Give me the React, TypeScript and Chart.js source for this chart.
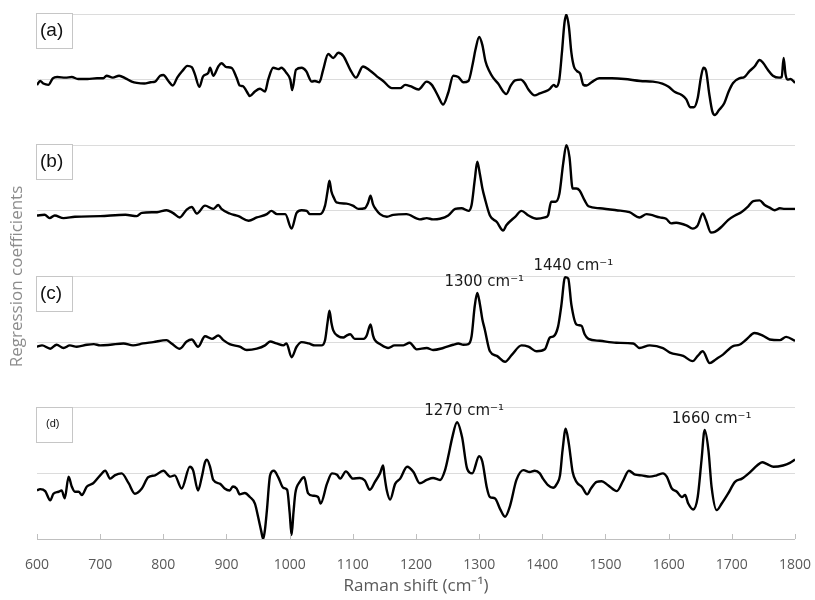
import React, { useEffect, useRef } from 'react';
import { Chart, registerables } from 'chart.js';

Chart.register(...registerables);

// ---- data (Raman shift in cm-1, regression coefficient in panel units) ----
const shiftA = [
  600,605,610,618,625,632,645,655,665,680,
  695,705,710,720,730,740,750,758,770,780,
  787,795,800,808,815,822,830,838,845,850,
  857,863,871,874,879,887,892,900,908,916,
  921,926,932,937,945,953,961,966,974,982,
  987,995,1001,1004,1010,1019,1026,1035,1040,1047,
  1053,1061,1069,1077,1085,1096,1105,1116,1127,1138,
  1148,1162,1175,1183,1191,1204,1217,1225,1235,1243,
  1251,1259,1267,1275,1283,1290,1294,1300,1305,1310,
  1316,1322,1330,1338,1343,1350,1357,1366,1372,1378,
  1388,1396,1405,1412,1418,1422,1427,1431,1435,1438,
  1442,1446,1450,1455,1460,1465,1470,1478,1490,1510,
  1530,1555,1575,1590,1600,1610,1620,1628,1634,1640,
  1646,1651,1655,1659,1664,1669,1673,1680,1688,1695,
  1702,1712,1720,1728,1736,1744,1750,1757,1765,1775,
  1779,1782,1785,1788,1793,1800];
const coefA = [
  -0.08,-0.02,-0.06,-0.08,0.02,0.04,0.03,0.04,0.01,0.01,
  0.02,0.02,0.06,0.03,0.06,0.02,-0.03,-0.05,-0.06,-0.04,
  -0.03,0.06,0.07,-0.02,-0.09,0.03,0.13,0.21,0.19,0.08,
  -0.11,0.05,0.1,0.18,0.06,0.2,0.25,0.19,0.18,0.03,
  -0.09,-0.1,-0.18,-0.25,-0.18,-0.14,-0.18,0,0.18,0.16,
  0.18,0.1,0,-0.16,0.15,0.18,0.13,-0.03,-0.02,-0.04,
  0.15,0.39,0.33,0.41,0.36,0.15,0.03,0.2,0.14,0.05,
  -0.02,-0.13,-0.13,-0.08,-0.1,-0.15,-0.03,-0.08,-0.25,-0.38,
  -0.2,0.06,0.04,-0.04,-0.02,0.25,0.45,0.65,0.53,0.28,
  0.13,0.03,-0.06,-0.18,-0.22,-0.09,-0.01,0,-0.05,-0.15,
  -0.24,-0.21,-0.18,-0.14,-0.08,-0.11,0.01,0.41,0.86,0.99,
  0.81,0.41,0.2,0.13,0.09,-0.08,-0.09,-0.04,0.02,0.02,
  0.01,-0.02,-0.03,-0.06,-0.11,-0.19,-0.23,-0.3,-0.42,-0.42,
  -0.28,0.03,0.18,0.14,-0.2,-0.48,-0.54,-0.46,-0.36,-0.18,
  -0.05,0.02,0.04,0.13,0.2,0.3,0.25,0.15,0.06,0.03,
  0.04,0.33,0.08,0,0.01,-0.05];

const shiftB = [600,612,620,628,642,660,700,740,758,766,790,805,815,826,837,845,853,866,879,887,892,905,919,935,948,964,971,980,993,1003,1011,1019,1027,1032,1048,1056,1060,1063,1066,1070,1074,1090,1100,1109,1119,1124,1128,1132,1136,1143,1154,1164,1185,1206,1217,1227,1238,1251,1262,1272,1283,1288,1293,1297,1301,1305,1309,1317,1328,1338,1343,1357,1367,1378,1391,1404,1409,1414,1421,1427,1433,1438,1443,1448,1454,1459,1467,1473,1491,1517,1538,1554,1565,1586,1596,1604,1612,1628,1638,1646,1654,1659,1667,1673,1684,1694,1705,1715,1726,1734,1744,1752,1760,1768,1776,1784,1800];
const coefB = [-0.07,-0.06,-0.11,-0.07,-0.11,-0.09,-0.08,-0.06,-0.08,-0.03,-0.02,0.01,-0.03,-0.1,0.02,0.06,-0.04,0.08,0.03,0.09,0.03,-0.04,-0.08,-0.15,-0.1,-0.05,0,-0.05,-0.05,-0.27,-0.03,0.01,0,-0.05,-0.05,0.08,0.3,0.46,0.3,0.2,0.13,0.11,0.08,0.03,0.04,0.12,0.23,0.1,0.03,-0.05,-0.09,-0.06,-0.05,-0.13,-0.11,-0.13,-0.12,-0.07,0.03,0.04,0,0.09,0.47,0.75,0.57,0.35,0.19,-0.07,-0.17,-0.3,-0.22,-0.09,0,-0.07,-0.12,-0.1,-0.07,0.14,0.14,0.26,0.72,1.0,0.82,0.34,0.34,0.31,0.16,0.07,0.04,0.01,-0.02,-0.1,-0.05,-0.1,-0.12,-0.19,-0.18,-0.22,-0.27,-0.22,-0.04,-0.14,-0.33,-0.32,-0.24,-0.14,-0.07,-0.02,0.07,0.15,0.16,0.09,0.05,0.01,0.04,0.03,0.03];

const shiftC = [600,608,621,631,642,652,663,679,690,700,716,737,752,768,784,805,813,826,837,845,855,866,877,887,895,905,921,932,948,961,969,979,990,995,1003,1011,1019,1030,1040,1050,1056,1060,1063,1066,1069,1077,1085,1090,1096,1103,1117,1122,1128,1132,1135,1143,1156,1166,1180,1190,1201,1217,1227,1243,1259,1267,1275,1283,1288,1293,1297,1301,1305,1309,1317,1328,1341,1352,1367,1378,1391,1404,1412,1418,1425,1430,1436,1441,1446,1454,1462,1467,1473,1491,1517,1544,1554,1570,1591,1602,1623,1638,1646,1654,1665,1675,1686,1702,1712,1723,1736,1749,1760,1776,1786,1800];
const coefC = [-0.07,-0.05,-0.1,-0.04,-0.09,-0.05,-0.07,-0.04,-0.03,-0.05,-0.04,-0.02,-0.05,-0.02,0,0.03,-0.02,-0.1,0.01,0.04,-0.07,0.09,0.05,0.1,0.03,-0.03,-0.07,-0.12,-0.1,-0.05,0.01,-0.02,-0.05,-0.02,-0.23,-0.07,0,-0.02,-0.05,-0.05,0.03,0.3,0.48,0.3,0.18,0.09,0.07,0.1,0.12,0.05,0.05,0.1,0.27,0.1,0.03,-0.03,-0.09,-0.05,-0.05,-0.01,-0.11,-0.09,-0.12,-0.09,-0.04,-0.02,-0.04,-0.03,0.09,0.55,0.75,0.59,0.35,0.19,-0.14,-0.21,-0.3,-0.19,-0.05,-0.07,-0.14,-0.11,0.07,0.09,0.24,0.55,0.99,0.97,0.57,0.27,0.25,0.12,0.05,0.02,-0.01,-0.02,-0.09,-0.05,-0.09,-0.16,-0.21,-0.29,-0.21,-0.14,-0.32,-0.26,-0.19,-0.06,-0.04,0.04,0.14,0.1,0.04,0.03,0.08,0.02];

const shiftD = [
  600,605,613,621,626,634,639,644,650,655,
  660,666,671,679,689,700,708,716,723,734,
  745,755,766,776,787,800,811,818,829,842,
  847,855,861,866,869,874,879,890,897,905,
  910,916,921,929,937,945,950,955,958,961,
  964,969,975,982,990,996,1000,1003,1006,1009,
  1016,1023,1029,1037,1045,1049,1059,1067,1075,1080,
  1089,1100,1111,1119,1127,1135,1143,1148,1150,1154,
  1159,1167,1175,1186,1196,1206,1217,1227,1238,1246,
  1252,1257,1265,1273,1281,1289,1300,1305,1312,1317,
  1325,1333,1341,1349,1359,1370,1380,1388,1396,1401,
  1409,1417,1423,1428,1432,1437,1442,1448,1454,1463,
  1471,1477,1486,1494,1504,1518,1528,1537,1547,1557,
  1570,1581,1591,1597,1605,1613,1621,1626,1631,1639,
  1646,1652,1657,1663,1668,1676,1684,1694,1705,1716,
  1729,1740,1748,1756,1766,1781,1792,1800];
const coefD = [
  -0.26,-0.24,-0.27,-0.41,-0.31,-0.28,-0.26,-0.38,-0.05,-0.2,
  -0.28,-0.28,-0.33,-0.2,-0.15,-0.03,0.04,-0.08,-0.03,0,
  -0.15,-0.31,-0.23,-0.06,-0.03,0.04,-0.05,-0.03,-0.23,0.1,
  0.05,-0.26,-0.05,0.17,0.21,0.1,-0.1,-0.16,-0.23,-0.26,
  -0.2,-0.23,-0.32,-0.3,-0.36,-0.46,-0.66,-0.88,-1.0,-0.85,
  -0.56,-0.03,0.04,-0.06,-0.22,-0.25,-0.6,-0.94,-0.6,-0.3,
  -0.13,-0.06,-0.3,-0.34,-0.36,-0.46,-0.16,0,-0.02,-0.08,
  0.03,-0.08,-0.07,-0.11,-0.25,-0.13,0,0.12,-0.03,-0.27,
  -0.4,-0.16,-0.08,0.1,0.02,-0.15,-0.1,-0.07,-0.1,0.05,
  0.3,0.53,0.78,0.55,0.07,0,0.26,0.18,-0.21,-0.36,
  -0.38,-0.54,-0.66,-0.49,-0.1,0.05,0.02,0.04,0,-0.08,
  -0.18,-0.22,-0.16,-0.03,0.35,0.68,0.45,0.02,-0.13,-0.21,
  -0.32,-0.23,-0.13,-0.12,-0.18,-0.27,-0.11,0.04,-0.02,-0.03,
  -0.05,-0.03,0,-0.05,-0.23,-0.28,-0.36,-0.33,-0.46,-0.55,
  -0.36,0.2,0.66,0.35,-0.21,-0.56,-0.46,-0.31,-0.13,-0.08,
  0.02,0.12,0.17,0.14,0.1,0.12,0.16,0.21];

const panelLabels = ['(a)', '(b)', '(c)', '(d)'];
const panelBaselines = [7, 5, 3, 1];
const seriesShifts = [shiftA, shiftB, shiftC, shiftD];
const seriesCoefs = [coefA, coefB, coefC, coefD];

const peakLabels = ['1300 cm\u207B\u00B9', '1440 cm\u207B\u00B9', '1270 cm\u207B\u00B9', '1660 cm\u207B\u00B9'];
const peakShifts = [1297, 1438, 1265, 1657];
const peakPanels = [2, 2, 3, 3];

const overlayPlugin = {
  id: 'overlay',
  afterDatasetsDraw(chart: any) {
    const { ctx, chartArea, scales } = chart;
    const x = scales.x;
    const y = scales.y;
    ctx.save();
    // small inward tick marks on the x axis
    ctx.strokeStyle = '#bfbfbf';
    ctx.lineWidth = 1;
    x.ticks.forEach((t: any) => {
      const px = Math.round(x.getPixelForValue(t.value)) + 0.5;
      ctx.beginPath();
      ctx.moveTo(px, chartArea.bottom - 5);
      ctx.lineTo(px, chartArea.bottom);
      ctx.stroke();
    });
    panelLabels.forEach((lab, i) => {
      const top = Math.round(y.getPixelForValue(panelBaselines[i] + 1));
      const left = Math.round(chartArea.left);
      ctx.fillStyle = '#ffffff';
      ctx.fillRect(left - 1, top - 1, 36, 35);
      ctx.strokeStyle = '#c6c6c6';
      ctx.lineWidth = 1;
      ctx.strokeRect(left - 0.5, top - 0.5, 36, 35);
      ctx.fillStyle = '#111111';
      ctx.textAlign = 'left';
      ctx.textBaseline = 'middle';
      if (i === 3) {
        ctx.font = '11px "Liberation Sans"';
        ctx.fillText(lab, left + 9, top + 16);
      } else {
        ctx.font = '19px "Liberation Sans"';
        ctx.fillText(lab, left + 3, top + 17);
      }
    });
    peakLabels.forEach((lab, i) => {
      const p = peakPanels[i];
      const xs = seriesShifts[p];
      const ys = seriesCoefs[p];
      let best = -Infinity;
      xs.forEach((s, k) => {
        if (Math.abs(s - peakShifts[i]) <= 6 && ys[k] > best) best = ys[k];
      });
      const px = x.getPixelForValue(peakShifts[i]) + 7;
      const py = y.getPixelForValue(panelBaselines[p] + best) - 7;
      ctx.fillStyle = '#1a1a1a';
      ctx.font = '15px "DejaVu Sans"';
      ctx.textAlign = 'center';
      ctx.textBaseline = 'alphabetic';
      ctx.fillText(lab, px, py);
    });
    ctx.restore();
  },
};

export default function App() {
  const canvasRef = useRef<HTMLCanvasElement | null>(null);

  useEffect(() => {
    if (!canvasRef.current) return;
    const datasets = seriesShifts.map((xs, i) => ({
      label: panelLabels[i],
      data: xs.map((s, k) => ({ x: s, y: panelBaselines[i] + seriesCoefs[i][k] })),
      borderColor: '#000000',
      borderWidth: 2.4,
      pointRadius: 0,
      cubicInterpolationMode: 'monotone' as const,
      fill: false,
    }));
    const chart = new Chart(canvasRef.current, {
      type: 'line',
      data: { datasets },
      options: {
        responsive: false,
        animation: false,
        layout: { padding: { top: 14, right: 3, left: 0, bottom: 0 } },
        plugins: { legend: { display: false }, tooltip: { enabled: false } },
        scales: {
          x: {
            type: 'linear',
            min: 600,
            max: 1800,
            ticks: {
              stepSize: 100,
              color: '#595959',
              font: { family: 'Open Sans', size: 14 },
              padding: 4,
              maxRotation: 0,
              autoSkip: false,
              callback: (v: any) => String(v),
            },
            grid: { drawOnChartArea: false, drawTicks: true, tickLength: 14, tickColor: 'rgba(0,0,0,0)' },
            border: { color: '#bfbfbf', width: 1 },
            title: {
              display: true,
              text: 'Raman shift (cm\u207B\u00B9)',
              color: '#595959',
              font: { family: 'Open Sans', size: 17 },
              padding: { top: 4, bottom: 4 },
            },
            afterFit: (s: any) => { s.height = 61; },
          },
          y: {
            min: 0,
            max: 8,
            ticks: { display: false, stepSize: 1 },
            grid: { color: '#dcdcdc', drawTicks: false },
            border: { display: false },
            title: {
              display: true,
              text: 'Regression coefficients',
              color: '#8c8c8c',
              font: { family: 'Open Sans', size: 17 },
              padding: { top: 7, bottom: 0 },
            },
            afterFit: (s: any) => { s.width = 37; },
          },
        },
      },
      plugins: [overlayPlugin],
    });
    return () => chart.destroy();
  }, []);

  return (
    <div style={{ position: 'absolute', left: 0, top: 0, width: 815, height: 600, background: '#fff' }}>
      <canvas ref={canvasRef} width={815} height={600} />
    </div>
  );
}
